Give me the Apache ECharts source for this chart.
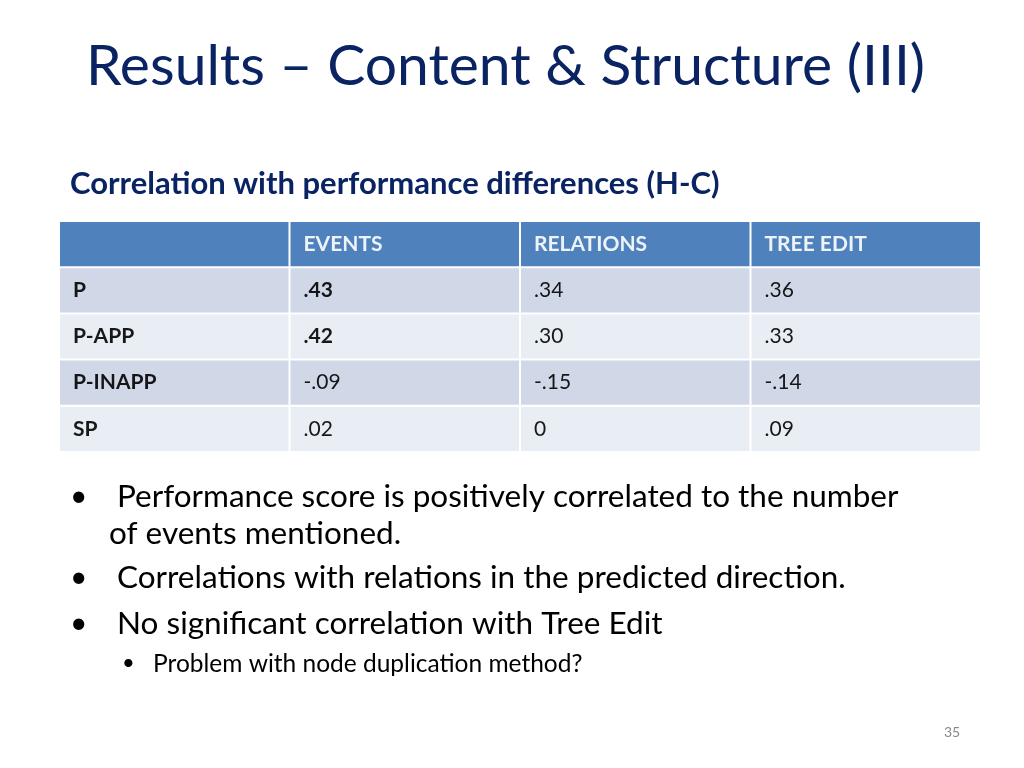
<!DOCTYPE html>
<html>
<head>
<meta charset="utf-8">
<script src="https://cdn.jsdelivr.net/npm/echarts@6/dist/echarts.min.js"></script>
<style>html,body{margin:0;padding:0;background:#fff}#main{width:1024px;height:768px}</style>
</head>
<body>
<div id="main"></div>
<script>
var columns = ['', 'EVENTS', 'RELATIONS', 'TREE EDIT'];
var rowLabels = ['P', 'P-APP', 'P-INAPP', 'SP'];
var events = ['.43', '.42', '-.09', '.02'];
var relations = ['.34', '.30', '-.15', '0'];
var treeEdit = ['.36', '.33', '-.14', '.09'];
var boldEvents = [true, true, false, false];

var font = 'Lato, "Open Sans", sans-serif';
var cells = [];
columns.forEach(function (c, i) { cells.push([i, 0, c, 1]); });
rowLabels.forEach(function (r, j) {
    cells.push([0, j + 1, r, 1]);
    cells.push([1, j + 1, events[j], boldEvents[j] ? 1 : 0]);
    cells.push([2, j + 1, relations[j], 0]);
    cells.push([3, j + 1, treeEdit[j], 0]);
});

function txt(x, y, t, f, c) {
    return { type: 'text', left: x, top: y, style: { text: t, font: f, fill: c } };
}

var chart = echarts.init(document.getElementById('main'));
chart.setOption({
    animation: false,
    grid: { left: 60, top: 222, width: 922, height: 231 },
    xAxis: { type: 'category', data: ['0', '1', '2', '3'], show: false },
    yAxis: { type: 'category', data: ['0', '1', '2', '3', '4'], inverse: true, show: false },
    graphic: [
        txt(86, 38, 'Results – Content & Structure (III)', '57px ' + font, '#0a2463'),
        txt(70, 168, 'Correlation with performance differences (H-C)', 'bold 31px ' + font, '#0a2463'),
        txt(70, 481, '•', '30px ' + font, '#000'),
        txt(117, 481, 'Performance score is positively correlated to the number', '31.5px ' + font, '#000'),
        txt(109, 518, 'of events mentioned.', '31.5px ' + font, '#000'),
        txt(70, 562, '•', '30px ' + font, '#000'),
        txt(117, 562, 'Correlations with relations in the predicted direction.', '31.5px ' + font, '#000'),
        txt(70, 608, '•', '30px ' + font, '#000'),
        txt(117, 608, 'No significant correlation with Tree Edit', '31.5px ' + font, '#000'),
        txt(122, 652, '•', '22px ' + font, '#000'),
        txt(153, 652, 'Problem with node duplication method?', '24.5px ' + font, '#000'),
        txt(944, 725, '35', '14px ' + font, '#888')
    ],
    series: [{
        type: 'custom',
        data: cells,
        renderItem: function (params, api) {
            var p = api.coord([api.value(0), api.value(1)]);
            var s = api.size([1, 1]);
            var row = api.value(1);
            var fill = row === 0 ? '#4f81bd' : (row % 2 === 1 ? '#d0d8e8' : '#e9edf4');
            var t = cells[params.dataIndex][2];
            var bold = cells[params.dataIndex][3];
            return {
                type: 'group',
                children: [
                    { type: 'rect', shape: { x: p[0] - s[0] / 2, y: p[1] - s[1] / 2, width: s[0] - 2, height: s[1] - 2 }, style: { fill: fill } },
                    { type: 'text', x: p[0] - s[0] / 2 + 13, y: p[1] - 1, style: { text: t, font: (bold ? 'bold ' : '') + '21px ' + font, fill: row === 0 ? '#fff' : '#000', verticalAlign: 'middle', opacity: 0.9 } }
                ]
            };
        }
    }]
});
</script>
</body>
</html>
